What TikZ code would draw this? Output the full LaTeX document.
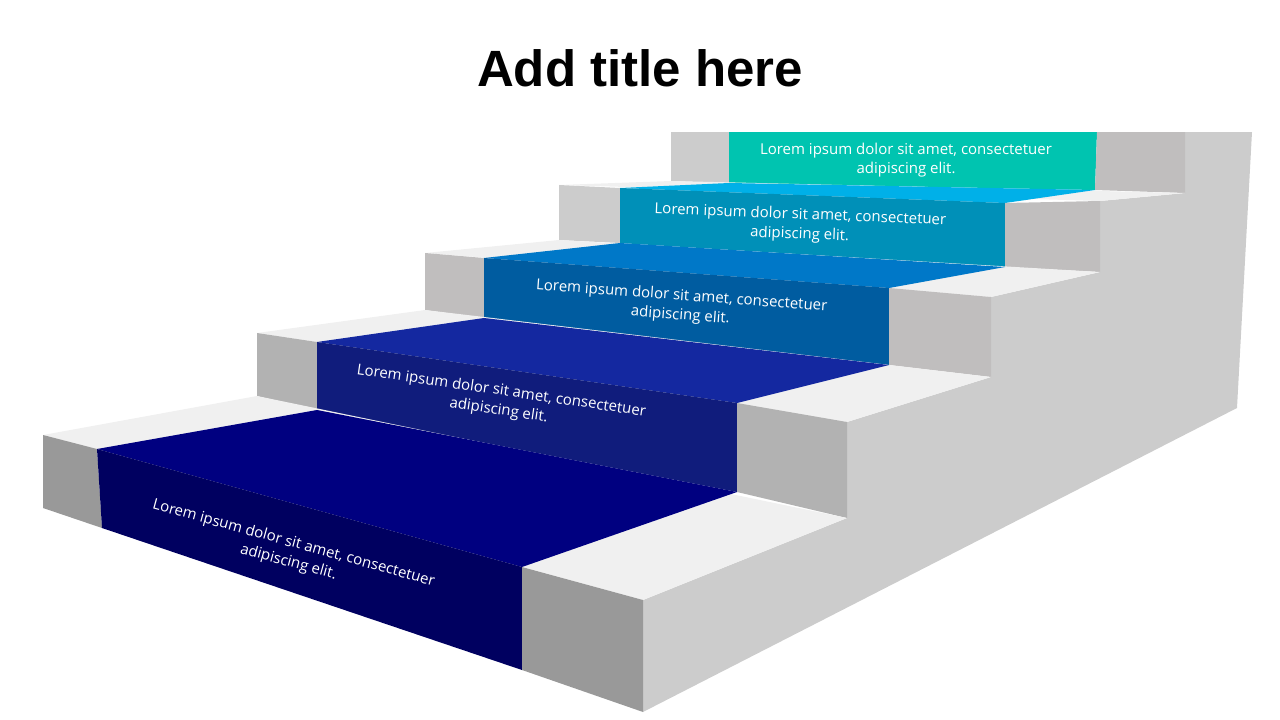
\documentclass[tikz,border=0pt]{standalone}
\usepackage{fontspec}
\setmainfont{Open Sans}
\newfontfamily\titlefont{Liberation Sans}
\begin{document}
\begin{tikzpicture}[x=1pt,y=-1pt,
  txt/.style={text=white,align=center,font=\fontsize{15}{19.5}\selectfont}]
\useasboundingbox (0,0) rectangle (1280,720);
% side wall
\fill[black!20] (643,712)--(643,600)--(847,518)--(847,422)--(991,377)--(991,297)--(1100,272)--(1100,201)--(1185,193)--(1185,132)--(1252,132)--(1237,408)--cycle;
% step 5 riser
\fill[black!20] (671,132)--(729,132)--(729,183)--(671,181)--cycle;
\fill[color={rgb,255:red,0;green,196;blue,176}] (729,132)--(1097,132)--(1095,190)--(729,183)--cycle;
\fill[color={rgb,255:red,192;green,190;blue,190}] (1097,132)--(1185,132)--(1185,193)--(1095,190)--cycle;
% step 4 tread
\fill[black!6] (559,185)--(671,181)--(1185,193)--(1100,201)--cycle;
\fill[color={rgb,255:red,0;green,176;blue,232}] (620,188)--(729,183)--(1095,190)--(1005,203)--cycle;
% step 4 riser
\fill[black!20] (559,185)--(620,188)--(620,243)--(559,240)--cycle;
\fill[color={rgb,255:red,0;green,144;blue,184}] (620,188)--(1005,203)--(1005,267)--(620,243)--cycle;
\fill[color={rgb,255:red,192;green,190;blue,190}] (1005,203)--(1100,201)--(1100,272)--(1005,267)--cycle;
% step 3 tread
\fill[black!6] (425,253)--(559,240)--(1100,272)--(991,297)--cycle;
\fill[color={rgb,255:red,0;green,120;blue,200}] (484,258)--(620,243)--(1005,267)--(889,288)--cycle;
% step 3 riser
\fill[color={rgb,255:red,192;green,190;blue,190}] (425,253)--(484,258)--(484,318)--(425,310)--cycle;
\fill[color={rgb,255:red,0;green,92;blue,160}] (484,258)--(889,288)--(889,365)--(484,318)--cycle;
\fill[color={rgb,255:red,192;green,190;blue,190}] (889,288)--(991,297)--(991,377)--(889,365)--cycle;
% step 2 tread
\fill[black!6] (257,333)--(425,310)--(991,377)--(847,422)--cycle;
\fill[color={rgb,255:red,20;green,40;blue,160}] (317,342)--(484,318)--(889,365)--(737,403)--cycle;
% step 2 riser
\fill[black!30] (257,333)--(317,342)--(317,410)--(257,396)--cycle;
\fill[color={rgb,255:red,16;green,28;blue,124}] (317,342)--(737,403)--(737,492)--(317,410)--cycle;
\fill[black!30] (737,403)--(847,422)--(847,518)--(737,492)--cycle;
% step 1 tread
\fill[black!6] (43,435)--(257,396)--(847,518)--(643,600)--cycle;
\fill[color={rgb,255:red,0;green,0;blue,128}] (97,449)--(317,410)--(737,492)--(522,567)--cycle;
% step 1 riser
\fill[black!40] (43,435)--(97,449)--(102,528)--(43,508)--cycle;
\fill[color={rgb,255:red,0;green,0;blue,96}] (97,449)--(522,567)--(522,670)--(102,528)--cycle;
\fill[black!40] (522,567)--(643,600)--(643,712)--(522,670)--cycle;
% texts
\node[font=\titlefont\bfseries\fontsize{51}{55}\selectfont] (title) at (640,68) {Add title here};
\node[txt] (t5) at (906,160) {Lorem ipsum dolor sit amet, consectetuer\\adipiscing elit.};
\node[txt,rotate=-2.2] (t4) at (800,225) {Lorem ipsum dolor sit amet, consectetuer\\adipiscing elit.};
\node[txt,rotate=-4.2] (t3) at (681,306) {Lorem ipsum dolor sit amet, consectetuer\\adipiscing elit.};
\node[txt,rotate=-8.3] (t2) at (500,401) {Lorem ipsum dolor sit amet, consectetuer\\adipiscing elit.};
\node[txt,rotate=-15.4] (t1) at (291,553) {Lorem ipsum dolor sit amet, consectetuer\\adipiscing elit.};
\end{tikzpicture}
\end{document}
